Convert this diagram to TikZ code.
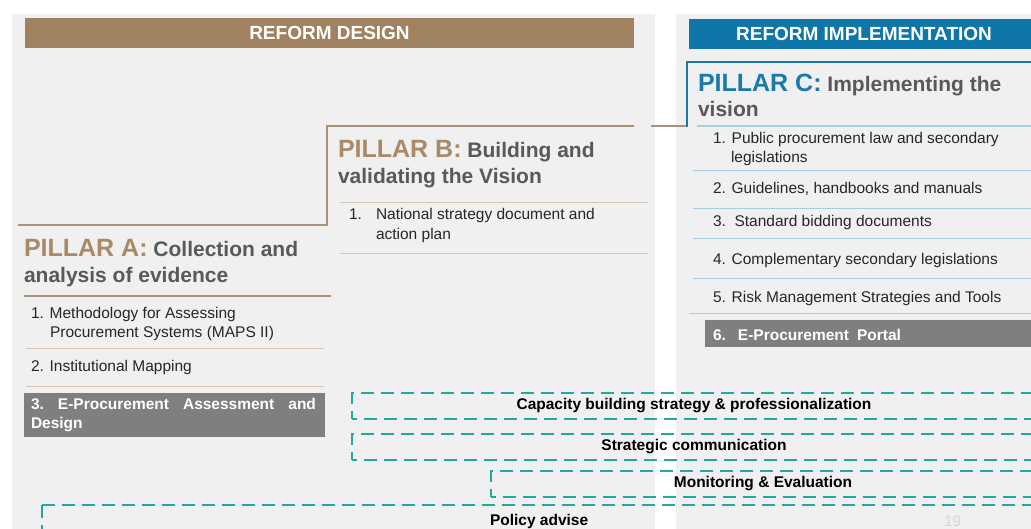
\documentclass[tikz,border=0pt]{standalone}
\usepackage{fontspec}
\setmainfont{Liberation Sans}
\definecolor{panelgrey}{RGB}{240,240,240}
\definecolor{designbrown}{RGB}{160,129,96}
\definecolor{implblue}{RGB}{14,118,168}
\definecolor{pilbrown}{RGB}{168,138,104}
\definecolor{pilblue}{RGB}{28,121,172}
\definecolor{titlegrey}{RGB}{89,89,89}
\definecolor{itemtext}{RGB}{38,38,38}
\definecolor{rulebrown}{RGB}{170,146,118}
\definecolor{ruletan}{RGB}{214,198,178}
\definecolor{ruleblue}{RGB}{168,204,226}
\definecolor{boxgrey}{RGB}{127,127,127}
\definecolor{teal}{RGB}{34,168,158}
\definecolor{pagenum}{RGB}{214,214,214}

\begin{document}
\begin{tikzpicture}
    [x=1pt,y=-1pt,%
      every node/.style={inner sep=0pt,outer sep=0pt},%
      bar/.style={anchor=north west,text=white,font=\fontsize{19}{22}\selectfont\bfseries,minimum height=30pt},%
      ttl/.style={anchor=base west,text=titlegrey,font=\fontsize{21}{26}\selectfont\bfseries},%
      entry/.style={anchor=base west,text=itemtext,font=\fontsize{15.5}{19}\selectfont},%
      greybox/.style={anchor=north west,fill=boxgrey,text=white,font=\fontsize{15.5}{19}\selectfont\bfseries},%
      dashline/.style={draw=teal,line width=1.8pt,dash pattern=on 13pt off 7pt},%
      dashbox/.style={anchor=north west,dashline,dash phase=8pt,%
        minimum height=26pt,text=black,font=\fontsize{15.5}{19}\selectfont\bfseries},%
      frame/.style={line width=1.4pt}]
    \clip (0,0) rectangle (1031,528);
    \useasboundingbox (0,0) rectangle (1031,528);
    % panels
    \fill[white] (0,0) rectangle (1031,528);
    \fill[panelgrey] (12,14) rectangle (655,540);
    \fill[panelgrey] (676,14) rectangle (1040,540);
    % header bars
    \node[bar,fill=designbrown,minimum width=609pt] (design) at (25,18) {REFORM DESIGN};
    \node[bar,fill=implblue,minimum width=350pt] (impl) at (689,19) {REFORM IMPLEMENTATION};

    % pillar steps
    \draw[frame,rulebrown] (18,225) -- (327,225) -- (327,126) -- (634,126);
    \draw[frame,rulebrown] (651,126) -- (687,126);
    \draw[frame,pilblue] (687,127) -- (687,62) -- (1040,62);

    % pillar A
    \node[ttl] (pa1) at (24,256) {\textcolor{pilbrown}{\fontsize{25}{30}\selectfont PILLAR A:} Collection and};
    \node[ttl] (pa2) at (24,282) {analysis of evidence};
    \draw[frame,rulebrown] (24,296) -- (331,296);
    \node[entry] (a1) at (31,318) {1. Methodology for Assessing};
    \node[entry] (a1b) at (50,337) {Procurement Systems (MAPS II)};
    \draw[ruletan] (26,348) -- (324,348);
    \node[entry] (a2) at (31,371) {2. Institutional Mapping};
    \draw[ruletan] (26,386) -- (324,386);
    \node[greybox,minimum width=301pt,minimum height=44pt] (a3box) at (24,393) {};
    \node[greybox,fill=none,text width=285pt,align=left,anchor=north west] (a3) at (31,398)
      {3.\hfill E-Procurement\hfill Assessment\hfill and\\Design};

    % pillar B
    \node[ttl] (pb1) at (338,157) {\textcolor{pilbrown}{\fontsize{25}{30}\selectfont PILLAR B:} Building and};
    \node[ttl] (pb2) at (338,183) {validating the Vision};
    \draw[ruletan] (340,202) -- (648,202);
    \node[entry] (b1) at (349,219) {1.};
    \node[entry] (b1a) at (376,219) {National strategy document and};
    \node[entry] (b1b) at (376,239) {action plan};
    \draw[ruletan] (340,253) -- (648,253);

    % pillar C
    \node[ttl] (pc1) at (698,91) {\textcolor{pilblue}{\fontsize{25}{30}\selectfont PILLAR C:} Implementing the};
    \node[ttl] (pc2) at (698,116) {vision};
    \draw[frame,ruleblue] (697,126) -- (1031,126);
    \node[entry] (c1) at (713,143) {1. Public procurement law and secondary};
    \node[entry] (c1b) at (731,162) {legislations};
    \draw[ruleblue] (693,170) -- (1031,170);
    \node[entry] (c2) at (713,193) {2. Guidelines, handbooks and manuals};
    \draw[ruleblue] (693,208) -- (1031,208);
    \node[entry] (c3) at (713,226) {3.\ \ Standard bidding documents};
    \draw[ruleblue] (693,238) -- (1031,238);
    \node[entry] (c4) at (713,264) {4. Complementary secondary legislations};
    \draw[ruleblue] (693,278) -- (1031,278);
    \node[entry] (c5) at (713,302) {5. Risk Management Strategies and Tools};
    \draw[ruleblue] (689,313) -- (1031,313);
    \node[greybox,minimum width=330pt,minimum height=27pt] (c6box) at (705,320) {};
    \node[greybox,fill=none,anchor=base west] (c6) at (713,340) {6.\hspace{12pt}E-Procurement\hspace{8pt}Portal};

    % cross-cutting activities
    \node[dashbox,minimum width=684pt] (capacity) at (352,393) {Capacity building strategy \& professionalization};
    \node[dashbox,minimum width=684pt] (strategic) at (352,434) {Strategic communication};
    \node[dashbox,minimum width=544pt] (monitoring) at (491,471) {Monitoring \& Evaluation};
    \coordinate (pol0) at (42,540);
    \coordinate (pol1) at (42,505);
    \coordinate (pol2) at (1040,505);
    \draw[dashline] (pol1) -- (pol0);
    \draw[dashline] (pol1) -- (pol2);
    \node[entry,font=\fontsize{15.5}{19}\selectfont\bfseries,text=black] (policy) at (490,525) {Policy advise};
    \node[entry,text=pagenum] (page) at (944,526) {19};
\end{tikzpicture}
\end{document}
